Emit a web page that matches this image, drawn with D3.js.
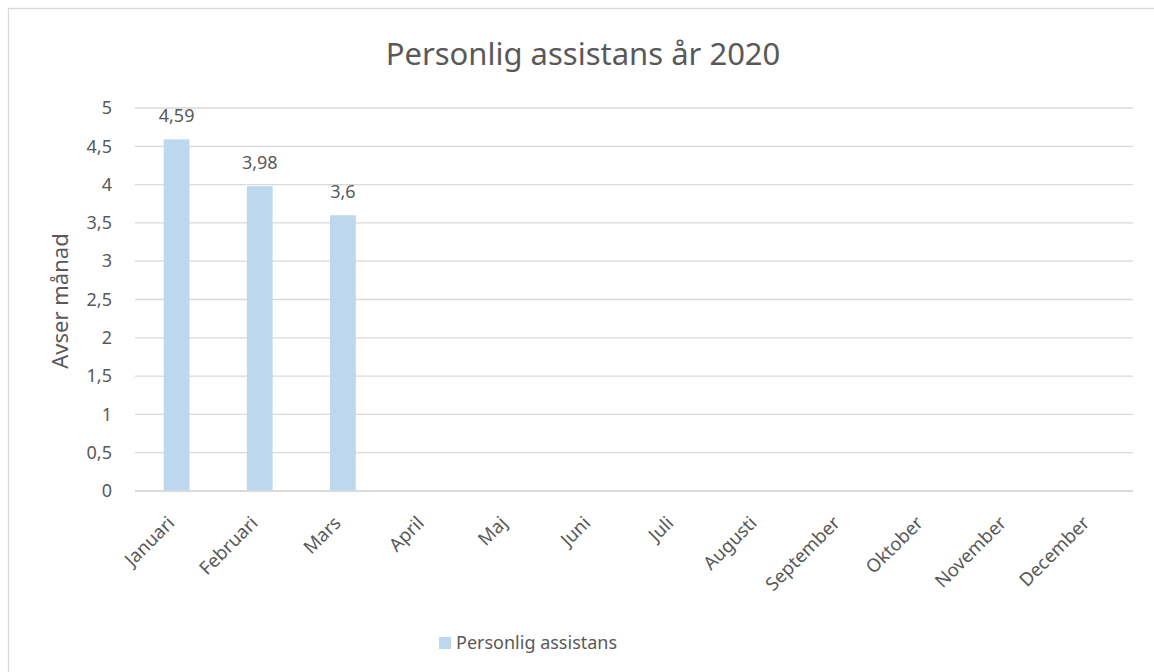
<!DOCTYPE html>
<html><head><meta charset="utf-8">
<script src="https://cdn.jsdelivr.net/npm/d3@7"></script>
<style>body{margin:0;background:#fff;} text{font-family:"Noto Sans","Open Sans",sans-serif;}</style>
</head><body>
<svg id="c" width="1154" height="672"></svg>
<script>
const title = "Personlig assistans år 2020";
const seriesName = "Personlig assistans";
const yTitle = "Avser månad";
const months = ["Januari","Februari","Mars","April","Maj","Juni","Juli","Augusti","September","Oktober","November","December"];
const values = [4.59, 3.98, 3.6, null, null, null, null, null, null, null, null, null];
const yTicks = [0,0.5,1,1.5,2,2.5,3,3.5,4,4.5,5];

const svg = d3.select("#c");
const txt = "#595959", grid = "#d9d9d9", barCol = "#bdd7ee";
svg.append("rect").attr("x",8.5).attr("y",8.5).attr("width",1160).attr("height",700)
  .attr("fill","#fff").attr("stroke","#d9d9d9").attr("stroke-width",1.3);

const m = {l:135, r:1133, t:108, b:491};
const x = d3.scaleBand().domain(months).range([m.l,m.r]).paddingInner(0.69).paddingOuter(0.345);
const y = d3.scaleLinear().domain([0,5]).range([m.b,m.t]);
const fmt = v => String(v).replace(".",",");

// gridlines
svg.append("g").selectAll("line").data(yTicks).join("line")
  .attr("x1",m.l).attr("x2",m.r).attr("y1",d=>y(d)).attr("y2",d=>y(d))
  .attr("stroke",grid).attr("stroke-width",1.3);

// y axis labels
const ya = svg.append("g").attr("transform",`translate(${m.l-10},0)`)
  .call(d3.axisLeft(y).tickValues(yTicks).tickFormat(fmt).tickSize(0));
ya.select(".domain").remove();
ya.selectAll("text").attr("fill",txt).style("font-size","18px").attr("x",-13);

// bars
const data = months.map((mo,i)=>({mo, v:values[i]})).filter(d=>d.v!=null);
svg.append("g").selectAll("rect").data(data).join("rect")
  .attr("x",d=>x(d.mo)).attr("width",x.bandwidth())
  .attr("y",d=>y(d.v)).attr("height",d=>y(0)-y(d.v)).attr("fill",barCol);
svg.append("g").selectAll("text").data(data).join("text")
  .attr("x",d=>x(d.mo)+x.bandwidth()/2).attr("y",d=>y(d.v)-17)
  .attr("text-anchor","middle").attr("fill",txt).style("font-size","18px")
  .text(d=>fmt(d.v));

// x axis line
svg.append("line").attr("x1",m.l).attr("x2",m.r).attr("y1",m.b).attr("y2",m.b)
  .attr("stroke",grid).attr("stroke-width",1.3);

// x labels
svg.append("g").selectAll("text").data(months).join("text")
  .attr("transform",d=>`translate(${x(d)+x.bandwidth()/2-10},${m.b+24}) rotate(-45)`)
  .attr("text-anchor","end").attr("dy","0.7em").attr("fill",txt).style("font-size","18.5px")
  .text(d=>d);

// title
svg.append("text").attr("x",583).attr("y",65).attr("text-anchor","middle")
  .attr("fill",txt).style("font-size","31px").text(title);

// y title
svg.append("text").attr("transform","translate(68,301) rotate(-90)").attr("text-anchor","middle")
  .attr("fill",txt).style("font-size","22px").text(yTitle);

// legend
svg.append("rect").attr("x",439).attr("y",637).attr("width",12).attr("height",12).attr("fill",barCol);
svg.append("text").attr("x",456).attr("y",649).attr("fill",txt).style("font-size","18px").text(seriesName);
</script>
</body></html>
